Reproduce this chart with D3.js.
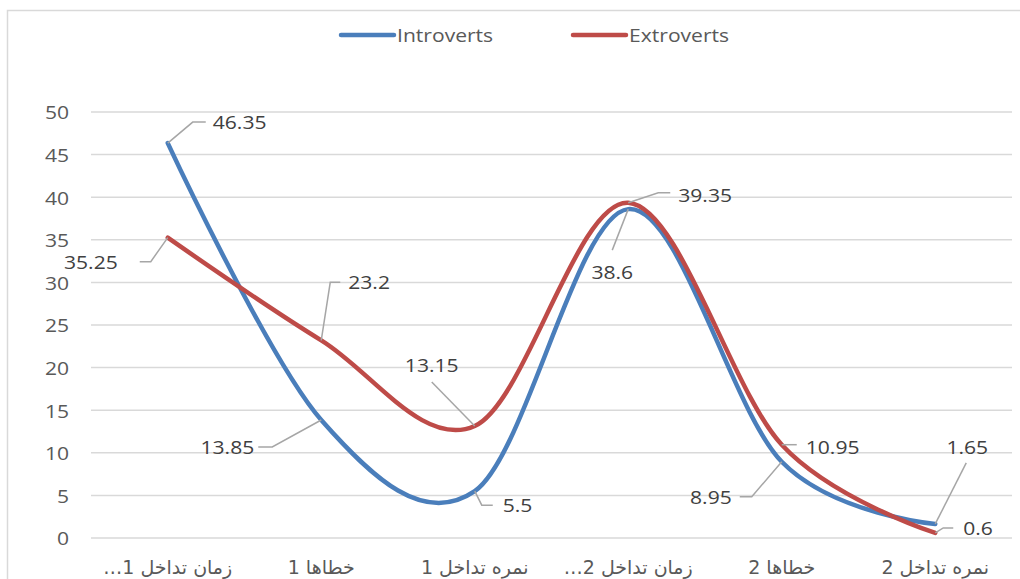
<!DOCTYPE html>
<html>
<head>
<meta charset="utf-8">
<script src="https://cdn.jsdelivr.net/npm/d3@7"></script>
<style>
  html, body { margin: 0; padding: 0; background: #fff; }
  svg { display: block; }
</style>
</head>
<body>
<svg id="chart" width="1020" height="579"></svg>
<script>
// ---- data ----
const categories = ["زمان تداخل 1…", "خطاها 1", "نمره تداخل 1", "زمان تداخل 2…", "خطاها 2", "نمره تداخل 2"];
const introverts = [46.35, 13.85, 5.5, 38.6, 8.95, 1.65];
const extroverts = [35.25, 23.2, 13.15, 39.35, 10.95, 0.6];
const yTicks = [0, 5, 10, 15, 20, 25, 30, 35, 40, 45, 50];
const seriesNames = ["Introverts", "Extroverts"];

// ---- layout ----
const W = 1020, H = 579;
const plot = { left: 91, right: 1012, top: 112, bottom: 538 };
const colors = { Introverts: "#4a7ebb", Extroverts: "#be4b48" };
const numFont = "'Open Sans', 'Liberation Sans', sans-serif";
const SX = 1.11; // horizontal stretch of text seen in reference

const svg = d3.select("#chart");

// chart border
svg.append("rect")
  .attr("x", 7.5).attr("y", 10.5)
  .attr("width", 1030).attr("height", 600)
  .attr("fill", "none").attr("stroke", "#d9d9d9").attr("stroke-width", 1.5);

const x = d3.scaleBand().domain(categories).range([plot.left, plot.right]);
const y = d3.scaleLinear().domain([0, 50]).range([plot.bottom, plot.top]);
const cx = c => x(c) + x.bandwidth() / 2;

// gridlines
svg.append("g").selectAll("line").data(yTicks).join("line")
  .attr("x1", plot.left).attr("x2", plot.right)
  .attr("y1", d => y(d)).attr("y2", d => y(d))
  .attr("stroke", "#d9d9d9").attr("stroke-width", 1.5);

// y axis labels
const yAxis = d3.axisLeft(y).tickValues(yTicks).tickSize(0).tickPadding(0);
const yg = svg.append("g").attr("transform", `translate(69,0)`).call(yAxis);
yg.select(".domain").remove();
yg.selectAll("text")
  .attr("font-family", numFont).attr("font-size", 19)
  .attr("fill", "#595959").attr("dy", "0.36em")
  .attr("transform", `scale(${SX},1)`);

// x axis labels
const xAxis = d3.axisBottom(x).tickSize(0).tickPadding(0);
const xg = svg.append("g").attr("transform", `translate(0,${plot.bottom})`).call(xAxis);
xg.select(".domain").remove();
xg.selectAll("text")
  .attr("font-family", "'DejaVu Sans', sans-serif")
  .attr("font-size", 19)
  .attr("fill", "#595959")
  .attr("direction", "rtl")
  .attr("text-anchor", "middle")
  .attr("y", 36).attr("dy", 0);

// lines
const line = d3.line()
  .x((d, i) => cx(categories[i]))
  .y(d => y(d))
  .curve(d3.curveCardinal.tension(0));

const seriesData = [
  { name: "Introverts", values: introverts },
  { name: "Extroverts", values: extroverts }
];

svg.append("g").selectAll("path").data(seriesData).join("path")
  .attr("d", d => line(d.values))
  .attr("fill", "none")
  .attr("stroke", d => colors[d.name])
  .attr("stroke-width", 4.5)
  .attr("stroke-linecap", "round")
  .attr("stroke-linejoin", "round");

// data labels with leader lines (offsets relative to data point)
const labelLayout = {
  Introverts: [
    { leader: [[25, -21], [38, -21]], tx: 45, ty: -21, anchor: "start" },
    { leader: [[-49, 27], [-63, 27]], tx: -67, ty: 27, anchor: "end" },
    { leader: [[7, 14], [18, 14]], tx: 28, ty: 14, anchor: "start" },
    { leader: [[-16, 41]], tx: -16, ty: 63, anchor: "middle" },
    { leader: [[-30, 35], [-42, 35]], tx: -50, ty: 35, anchor: "end" },
    { leader: [[31, -61]], tx: 32, ty: -77, anchor: "middle" }
  ],
  Extroverts: [
    { leader: [[-17, 24], [-28, 24]], tx: -50, ty: 24, anchor: "end" },
    { leader: [[9, -58], [19, -58]], tx: 27, ty: -58, anchor: "start" },
    { leader: [[-43, -44]], tx: -43, ty: -61, anchor: "middle" },
    { leader: [[30, -10], [42, -10]], tx: 50, ty: -8, anchor: "start" },
    { leader: [[15, 0]], tx: 24, ty: 2, anchor: "start" },
    { leader: [[8, -5], [18, -5]], tx: 28, ty: -5, anchor: "start" }
  ]
};

const lblG = svg.append("g");
seriesData.forEach(s => {
  s.values.forEach((v, i) => {
    const px = cx(categories[i]), py = y(v);
    const L = labelLayout[s.name][i];
    const pts = [[px, py]].concat(L.leader.map(p => [px + p[0], py + p[1]]));
    lblG.append("path")
      .attr("d", d3.line()(pts))
      .attr("fill", "none").attr("stroke", "#a6a6a6").attr("stroke-width", 1.5);
    lblG.append("g")
      .attr("transform", `translate(${px + L.tx},${py + L.ty}) scale(${SX},1)`)
      .append("text")
      .attr("dy", "0.36em")
      .attr("text-anchor", L.anchor)
      .attr("font-family", numFont).attr("font-size", 19)
      .attr("fill", "#404040")
      .text(v);
  });
});

// legend
const legend = [
  { name: seriesNames[0], x0: 341 },
  { name: seriesNames[1], x0: 573 }
];
const lg = svg.append("g");
legend.forEach(l => {
  lg.append("line")
    .attr("x1", l.x0).attr("x2", l.x0 + 53)
    .attr("y1", 35).attr("y2", 35)
    .attr("stroke", colors[l.name]).attr("stroke-width", 4.5)
    .attr("stroke-linecap", "round");
  lg.append("g")
    .attr("transform", `translate(${l.x0 + 56},35) scale(${SX},1)`)
    .append("text")
    .attr("dy", "0.36em")
    .attr("font-family", numFont).attr("font-size", 19)
    .attr("fill", "#595959")
    .text(l.name);
});
</script>
</body>
</html>
